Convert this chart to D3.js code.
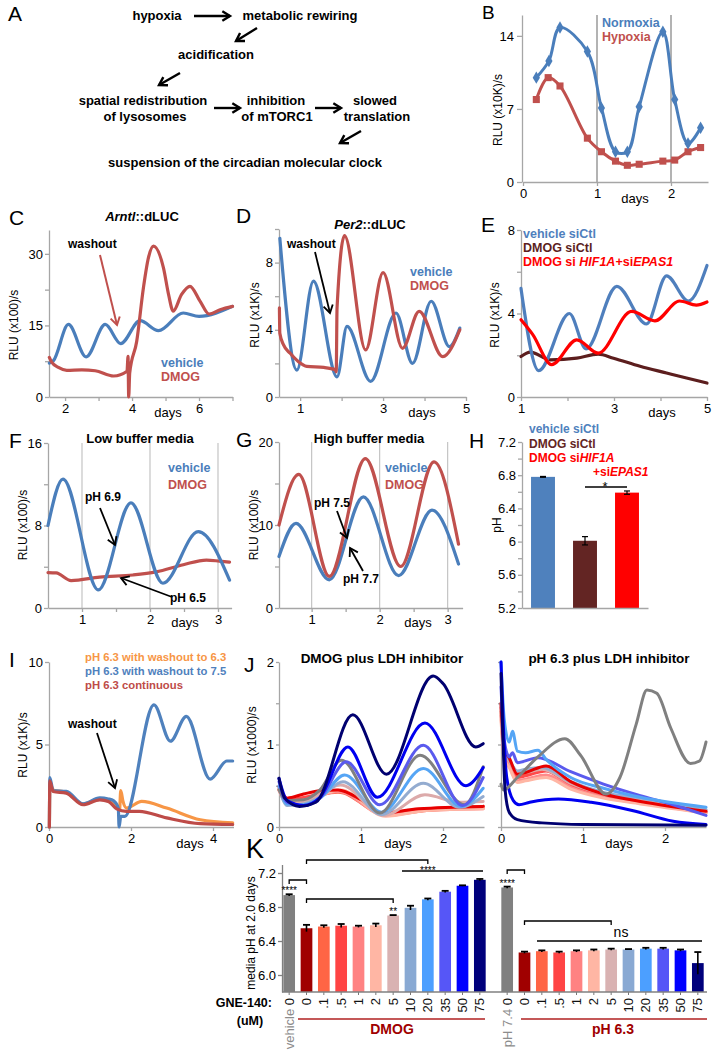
<!DOCTYPE html>
<html><head><meta charset="utf-8">
<script src="https://cdn.jsdelivr.net/npm/d3@7"></script>
<style>body{margin:0;background:#fff}svg{display:block}</style>
</head><body><svg id="c" width="721" height="1050"></svg>
<script>
// ================= DATA =================
// A
const aText = ["hypoxia","metabolic rewiring","acidification","spatial redistribution","of lysosomes","inhibition","of mTORC1","slowed","translation","suspension of the circadian molecular clock"];
// B
const bTicksX=[0,1,2], bTicksY=[0,7,14];
const bNormoxia=[[0.18,10.0],[0.35,11.6],[0.50,14.8],[0.87,12.5],[1.06,7.1],[1.25,2.9],[1.41,2.9],[1.57,7.2],[1.89,14.4],[2.05,7.9],[2.23,3.7],[2.40,5.2]];
const bHypoxia=[[0.18,7.9],[0.34,10.0],[0.50,9.2],[0.87,4.2],[1.06,2.9],[1.25,2.0],[1.41,1.6],[1.57,1.7],[1.89,2.0],[2.05,2.1],[2.23,2.9],[2.40,3.3]];
// C
const cTicksX=[2,4,6], cMinorX=[3,5,7], cTicksY=[0,15,30], cMinorY=[7.5,22.5];
const cVehicle=[[1.53,7.1],[1.65,7.6],[2.1,15.2],[2.63,8.4],[3.2,15.2],[3.66,11.2],[4.24,16.0],[4.79,13.9],[5.53,17.6],[6.0,16.9],[7.0,19.0]];
const cDMOG=[[1.53,8.3],[1.6,7.3],[1.8,6.2],[2.05,5.6],[2.5,5.7],[2.9,5.5],[3.45,4.4],[3.85,5.4],[3.88,8.5],[3.9,0],[3.93,5.0],[4.14,11.7],[4.34,22.9],[4.49,29.2],[4.64,31.6],[4.94,27],[5.09,21.5],[5.23,18.0],[5.48,21.5],[5.73,23.2],[6.03,20.1],[6.3,17.4],[6.63,18.3],[7.0,19.0]];
// D
const dTicksX=[1,3,5], dMinorX=[2,4], dTicksY=[0,4,8], dMinorY=[2,6,10];
const dVehicle=[[0.51,9.45],[0.92,1.6],[1.32,6.9],[1.89,1.2],[2.13,4.2],[2.7,0.93],[3.31,5.0],[3.71,2.0],[4.16,5.7],[4.6,3.0],[4.85,4.1]];
const dDMOG=[[0.5,5.3],[0.51,3.8],[0.6,3.1],[0.76,2.6],[0.96,2.1],[1.16,1.82],[1.57,1.76],[1.85,1.62],[1.87,1.5],[1.89,5.3],[2.07,9.6],[2.58,2.8],[3.0,7.4],[3.47,2.9],[3.87,5.1],[4.44,2.4],[4.85,4.0]];
// E
const eTicksX=[1,3,5], eMinorX=[2,4], eTicksY=[0,4,8], eMinorY=[2,6];
const eVehicleSiCtl=[[1.0,5.2],[1.38,1.26],[2.04,4.0],[2.4,2.3],[3.06,5.3],[3.7,3.5],[4.13,5.8],[4.6,4.6],[5.0,6.3]];
const eDmogSiCtl=[[1.0,1.94],[1.2,2.15],[1.63,1.78],[2.2,1.86],[2.66,2.05],[2.99,1.86],[3.56,1.47],[4.13,1.15],[4.56,0.91],[5.0,0.67]];
const eDmogSiHIF=[[1.0,3.7],[1.25,3.0],[1.66,1.55],[2.2,2.74],[2.66,2.1],[3.38,4.1],[3.88,3.65],[4.41,4.6],[4.77,4.4],[5.0,4.55]];
// F
const fTicksX=[1,2,3], fMinorX=[1.5,2.5], fTicksY=[0,8,16], fMinorY=[4,12];
const fVehicle=[[0.5,8.0],[0.72,12.5],[1.24,1.76],[1.72,10.2],[2.19,2.4],[2.71,7.4],[3.17,2.7]];
const fDMOG=[[0.5,3.43],[0.62,3.4],[0.84,2.66],[1.26,3.0],[1.75,3.2],[2.09,3.5],[2.49,4.2],[2.83,4.65],[3.02,4.55],[3.17,4.45]];
// G
const gTicksX=[1,2,3], gMinorX=[1.5,2.5], gTicksY=[0,10,20], gMinorY=[5,15];
const gVehicle=[[0.52,6.2],[0.77,10.2],[1.26,3.4],[1.76,13.4],[2.28,3.9],[2.77,11.8],[3.16,5.3]];
const gDMOG=[[0.52,10.0],[0.81,16.1],[1.26,3.8],[1.79,18.0],[2.31,5.0],[2.8,17.6],[3.16,7.7]];
// H
const hCats=["vehicle siCtl","DMOG siCtl","DMOG siHIF1A+siEPAS1"];
const hVals=[6.78,6.01,6.59];
const hErr=[0.005,0.05,0.02];
const hTicksY=[5.2,5.6,6,6.4,6.8,7.2], hMinorY=[5.4,5.8,6.2,6.6,7.0];
// I
const iTicksX=[0,2,4], iTicksY=[0,5,10];
const iWash63=[[0.01,0],[0.02,2.6],[0.1,2.25],[0.42,2.1],[0.83,1.4],[1.24,1.7],[1.5,1.5],[1.69,1.1],[1.72,1.0],[1.75,2.2],[1.8,1.6],[1.89,1.15],[2.26,1.55],[2.87,1.15],[3.69,0.44],[4.48,0.25]];
const iWash75=[[0.01,0],[0.02,3.0],[0.1,2.2],[0.42,2.16],[0.83,1.4],[1.24,1.76],[1.45,1.7],[1.57,1.6],[1.69,1.15],[1.71,0],[1.75,0.65],[1.85,0.65],[2.56,7.4],[2.96,5.2],[3.35,6.7],[3.93,2.9],[4.34,4.0],[4.48,4.0]];
const iContinuous=[[0.01,0],[0.02,2.8],[0.1,2.15],[0.42,2.05],[0.83,1.35],[1.24,1.65],[1.45,1.55],[1.65,1.1],[1.89,0.95],[2.2,0.95],[2.87,0.55],[3.69,0.2],[4.48,0.15]];
// J  (series order: vehicle, 0, .1, .5, 1, 2, 5, 10, 20, 35, 50, 75 uM GNE-140)
const jTicksX=[0,1,2], jTicksY=[0,1,2], jMinorY=[0.5,1.5];
const jLeft=[
 [[0,0.45],[0.1,0.32],[0.3,0.33],[0.5,0.45],[0.76,0.81],[1.23,0.17],[1.72,0.87],[2.26,0.27],[2.49,0.73]],
 [[0,0.49],[0.1,0.35],[0.3,0.4],[0.5,0.44],[0.72,0.45],[1.0,0.33],[1.25,0.17],[1.7,0.22],[2.49,0.25]],
 [[0,0.45],[0.1,0.32],[0.4,0.37],[0.72,0.42],[1.3,0.15],[1.8,0.2],[2.49,0.24]],
 [[0,0.46],[0.12,0.33],[0.4,0.38],[0.7,0.44],[1.3,0.16],[1.8,0.22],[2.49,0.25]],
 [[0,0.44],[0.1,0.3],[0.4,0.35],[0.72,0.43],[1.3,0.14],[1.8,0.2],[2.49,0.22]],
 [[0,0.45],[0.1,0.3],[0.35,0.33],[0.75,0.45],[1.3,0.13],[1.8,0.2],[2.49,0.22]],
 [[0,0.46],[0.1,0.28],[0.3,0.3],[0.75,0.51],[1.28,0.14],[1.78,0.39],[2.2,0.3],[2.49,0.31]],
 [[0,0.48],[0.1,0.26],[0.3,0.28],[0.5,0.36],[0.78,0.55],[1.25,0.15],[1.76,0.53],[2.2,0.24],[2.49,0.37]],
 [[0,0.5],[0.1,0.28],[0.3,0.27],[0.5,0.35],[0.8,0.63],[1.25,0.18],[1.76,0.71],[2.22,0.25],[2.49,0.47]],
 [[0,0.55],[0.1,0.3],[0.3,0.26],[0.5,0.35],[0.82,0.79],[1.23,0.27],[1.76,0.99],[2.24,0.26],[2.49,0.6]],
 [[0,0.59],[0.1,0.32],[0.3,0.26],[0.5,0.36],[0.84,0.97],[1.2,0.36],[1.78,1.26],[2.28,0.5],[2.49,0.72]],
 [[0,0.59],[0.07,0.35],[0.25,0.25],[0.45,0.3],[0.9,1.36],[1.31,0.64],[1.88,1.83],[2.0,1.74],[2.4,0.97],[2.49,1.01]]
];
const jRight=[
 [[0,0.52],[0.03,0.45],[0.2,0.6],[0.45,0.85],[0.78,1.07],[0.97,0.87],[1.28,0.4],[1.45,0.6],[1.65,1.25],[1.78,1.66],[1.9,1.62],[2.07,1.2],[2.31,0.77],[2.42,0.8],[2.5,1.03]],
 [[0,1.5],[0.04,0.95],[0.1,0.84],[0.2,0.64],[0.3,0.66],[0.55,0.74],[0.85,0.55],[1.25,0.4],[1.7,0.31],[2.5,0.19]],
 [[0,1.4],[0.04,0.9],[0.1,0.8],[0.2,0.62],[0.3,0.63],[0.55,0.7],[0.85,0.52],[1.25,0.38],[1.7,0.3],[2.5,0.18]],
 [[0,1.45],[0.04,0.9],[0.1,0.78],[0.2,0.6],[0.3,0.62],[0.55,0.68],[0.85,0.5],[1.25,0.37],[1.7,0.3],[2.5,0.18]],
 [[0,1.35],[0.04,0.85],[0.1,0.74],[0.2,0.56],[0.3,0.58],[0.55,0.63],[0.85,0.48],[1.25,0.36],[1.7,0.29],[2.5,0.17]],
 [[0,1.3],[0.04,0.82],[0.1,0.72],[0.2,0.54],[0.3,0.56],[0.55,0.6],[0.85,0.46],[1.25,0.35],[1.7,0.28],[2.5,0.17]],
 [[0,1.4],[0.04,0.9],[0.1,0.8],[0.2,0.65],[0.3,0.66],[0.5,0.7],[0.85,0.53],[1.25,0.4],[1.7,0.32],[2.5,0.2]],
 [[0,1.5],[0.04,0.95],[0.1,0.82],[0.2,0.68],[0.3,0.7],[0.5,0.72],[0.85,0.55],[1.25,0.42],[1.7,0.35],[2.5,0.21]],
 [[0,2.0],[0.04,1.3],[0.1,1.03],[0.14,1.16],[0.2,0.92],[0.3,0.9],[0.45,0.93],[0.55,0.82],[0.85,0.6],[1.25,0.47],[1.7,0.36],[2.5,0.24]],
 [[0,1.7],[0.04,1.05],[0.1,0.85],[0.14,0.9],[0.2,0.78],[0.45,0.84],[0.85,0.67],[1.25,0.52],[1.7,0.38],[2.1,0.27],[2.5,0.14]],
 [[0,2.0],[0.03,1.2],[0.07,0.6],[0.15,0.32],[0.22,0.27],[0.35,0.3],[0.7,0.34],[1.1,0.3],[1.6,0.2],[2.1,0.07],[2.5,0.03]],
 [[0,1.86],[0.02,1.2],[0.05,0.45],[0.1,0.18],[0.2,0.09],[0.5,0.05],[1.0,0.03],[2.5,0.02]]
];
const gneColors=["#808080","#a00000","#ff6545","#ff4444","#ff8282","#ffb6a4","#d9b2b2","#89a9d3","#4c9fff","#5656f7","#0000ff","#00007c"];
const jLineColors=["#808080","#e80000","#ff6545","#ff4a4a","#ff8a8a","#ffb6a4","#dcaaaa","#94acd0","#55a5f5","#5a5aee","#0000f0","#000070"];
// K
const kTicksY=[6.0,6.4,6.8,7.2];
const kDmogCats=["vehicle 0","0",".1",".5","1","2","5","10","20","35","50","75"];
const kDmogVals=[6.94,6.55,6.57,6.58,6.57,6.585,6.70,6.79,6.89,6.98,7.05,7.12];
const kDmogErr=[0.01,0.04,0.015,0.02,0.01,0.02,0.005,0.025,0.01,0.01,0.005,0.01];
const kPhCats=["pH 7.4 0","0",".1",".5","1","2","5","10","20","35","50","75"];
const kPhVals=[7.03,6.265,6.28,6.265,6.28,6.29,6.30,6.30,6.31,6.31,6.29,6.14];
const kPhErr=[0.01,0.01,0.01,0.01,0.01,0.01,0.01,0.005,0.01,0.01,0.01,0.13];

// ================= DRAWING =================
const FONT="'Liberation Sans', Arial, Helvetica, sans-serif";
const BLUE="#4a7ebb", RED="#c0504d", ORANGE="#f79646", AX="#a6a6a6";
const svg=d3.select('#c');
svg.append('rect').attr('width',721).attr('height',1050).attr('fill','#fff');

function txt(x,y,s,o={}){
  const t=svg.append('text').attr('x',x).attr('y',y).attr('font-family',FONT)
   .attr('font-size',o.size||13).attr('font-weight',o.weight||'normal')
   .attr('fill',o.fill||'#000').attr('text-anchor',o.anchor||'start').text(s);
  if(o.style) t.attr('font-style',o.style);
  return t;
}
function rich(x,y,parts,o={}){
  const t=svg.append('text').attr('x',x).attr('y',y).attr('font-family',FONT)
   .attr('font-size',o.size||12).attr('font-weight',o.weight||'bold').attr('fill',o.fill||'#000')
   .attr('text-anchor',o.anchor||'start');
  parts.forEach(p=>{const s=t.append('tspan').text(p[0]); if(p[1]) s.attr('font-style','italic'); if(p[2]) s.attr('fill',p[2]);});
  return t;
}
function vtxt(cx,cy,s,o={}){
  return svg.append('text').attr('transform',`translate(${cx},${cy}) rotate(-90)`)
   .attr('text-anchor','middle').attr('dy','0.35em').attr('font-family',FONT)
   .attr('font-size',o.size||12).attr('fill',o.fill||'#000').attr('font-weight',o.weight||'normal').text(s);
}
function styleAx(g,o){
  g.attr('font-family',FONT).attr('font-size',o.fs||13);
  g.select('.domain').attr('stroke',o.col||AX).attr('stroke-width',o.sw||1.3);
  g.selectAll('.tick line').attr('stroke',o.col||AX).attr('stroke-width',o.sw||1.3);
  g.selectAll('.tick text').attr('fill','#000');
}
function axB(x,yPos,ticks,o={}){
  const g=svg.append('g').attr('transform',`translate(0,${yPos})`)
   .call(d3.axisBottom(x).tickValues(ticks).tickSizeInner(o.ts||4).tickSizeOuter(0).tickPadding(o.pad||3).tickFormat(o.fmt||(d=>d)));
  styleAx(g,o);
  if(o.minor){
    const m=svg.append('g').attr('transform',`translate(0,${yPos})`)
     .call(d3.axisBottom(x).tickValues(o.minor).tickSizeInner(o.ts||4).tickSizeOuter(0).tickFormat(''));
    m.select('.domain').remove(); styleAx(m,o);
  }
  return g;
}
function axL(y,xPos,ticks,o={}){
  const g=svg.append('g').attr('transform',`translate(${xPos},0)`)
   .call(d3.axisLeft(y).tickValues(ticks).tickSizeInner(o.ts||4).tickSizeOuter(0).tickPadding(o.pad||2).tickFormat(o.fmt||(d=>d)));
  styleAx(g,o);
  if(o.minor){
    const m=svg.append('g').attr('transform',`translate(${xPos},0)`)
     .call(d3.axisLeft(y).tickValues(o.minor).tickSizeInner(o.ts||4).tickSizeOuter(0).tickFormat(''));
    m.select('.domain').remove(); styleAx(m,o);
  }
  return g;
}
function drawLine(x,y,data,color,w,curve){
  svg.append('path').datum(data).attr('fill','none').attr('stroke',color).attr('stroke-width',w||3)
   .attr('stroke-linejoin','round').attr('stroke-linecap','round')
   .attr('d',d3.line().x(d=>x(d[0])).y(d=>y(d[1])).curve(curve||d3.curveMonotoneX));
}
function arrow(x1,y1,x2,y2,col,w,h){
  svg.append('line').attr('x1',x1).attr('y1',y1).attr('x2',x2).attr('y2',y2).attr('stroke',col).attr('stroke-width',w);
  const a=Math.atan2(y2-y1,x2-x1), sp=0.55;
  const p1=[x2+h*Math.cos(a+Math.PI-sp),y2+h*Math.sin(a+Math.PI-sp)];
  const p2=[x2+h*Math.cos(a+Math.PI+sp),y2+h*Math.sin(a+Math.PI+sp)];
  svg.append('path').attr('d',`M${p1[0]},${p1[1]}L${x2},${y2}L${p2[0]},${p2[1]}`).attr('fill','none').attr('stroke',col).attr('stroke-width',w).attr('stroke-linejoin','miter');
}

// panel letters
[["A",8,21,21],["B",482,19,19],["C",9,225,21],["D",236,223,21],["E",481,232,21],["F",9,448,21],["G",236,447,21],["H",469,448,21],["I",9,667,21],["J",244,672,21],["K",246,858,27]]
 .forEach(l=>txt(l[1],l[2],l[0],{size:l[3]}));

// ---------- A ----------
const aPos=[[157,20],[300,20],[216,59],[143,105],[145,121],[276,105],[277,121],[375,105],[377,121],[245,167]];
aText.forEach((s,i)=>txt(aPos[i][0],aPos[i][1],s,{size:13,weight:'bold',anchor:'middle'}));
[[194,16,230,16],[257,28,236,41],[180,73,159,85],[214,108,240,108],[315,108,341,108],[361,131,340,143]]
 .forEach(a=>arrow(a[0],a[1],a[2],a[3],'#000',2.4,9));

// ---------- B ----------
{
 const x=d3.scaleLinear().domain([0,2.5]).range([523,708]);
 const y=d3.scaleLinear().domain([0,16]).range([182,15]);
 [1,2].forEach(v=>svg.append('line').attr('x1',x(v)).attr('x2',x(v)).attr('y1',y(16)).attr('y2',y(0)).attr('stroke','#808080').attr('stroke-width',1.2));
 axL(y,522,bTicksY,{ts:5,pad:3});
 axB(x,182,bTicksX,{ts:4});
 drawLine(x,y,bHypoxia,RED,3,d3.curveCatmullRom);
 drawLine(x,y,bNormoxia,BLUE,3,d3.curveCatmullRom);
 svg.selectAll(null).data(bHypoxia).enter().append('path').attr('transform',d=>`translate(${x(d[0])},${y(d[1])})`)
  .attr('d',d3.symbol(d3.symbolSquare,50)).attr('fill',RED);
 svg.selectAll(null).data(bNormoxia).enter().append('path').attr('transform',d=>`translate(${x(d[0])},${y(d[1])})`)
  .attr('d',d3.symbol(d3.symbolDiamond,45)).attr('fill',BLUE);
 txt(602,27,"Normoxia",{size:12.5,weight:'bold',fill:BLUE});
 txt(602,41,"Hypoxia",{size:12.5,weight:'bold',fill:RED});
 vtxt(498,110,"RLU (x10K)/s");
 txt(635,203,"days",{anchor:'middle'});
}

// ---------- C ----------
{
 const x=d3.scaleLinear().domain([1.52,7.0]).range([49,232.5]);
 const y=d3.scaleLinear().domain([0,35]).range([397,230]);
 axL(y,49,cTicksY,{minor:cMinorY});
 axB(x,397,cTicksX,{minor:cMinorX});
 drawLine(x,y,cVehicle,BLUE,3.2);
 drawLine(x,y,cDMOG,RED,3.2);
 rich(142,221,[["Arntl",true],["::dLUC"]],{size:13,anchor:'middle'});
 txt(68,248,"washout",{size:12,weight:'bold'});
 arrow(100,255,117,325,RED,2,9);
 txt(161,367,"vehicle",{size:12.5,weight:'bold',fill:BLUE});
 txt(161,381,"DMOG",{size:12.5,weight:'bold',fill:RED});
 vtxt(14,325,"RLU (x100)/s");
 txt(168,417,"days",{anchor:'middle'});
}

// ---------- D ----------
{
 const x=d3.scaleLinear().domain([0.49,5]).range([279,466]);
 const y=d3.scaleLinear().domain([0,10]).range([397,229]);
 axL(y,279,dTicksY,{minor:dMinorY});
 axB(x,397,dTicksX,{minor:dMinorX});
 drawLine(x,y,dVehicle,BLUE,3.2);
 drawLine(x,y,dDMOG,RED,3.2);
 rich(370,229,[["Per2",true],["::dLUC"]],{size:13,anchor:'middle'});
 txt(287,248,"washout",{size:12,weight:'bold'});
 arrow(315,252,330,313,'#000',1.8,9);
 txt(410,276,"vehicle",{size:12.5,weight:'bold',fill:BLUE});
 txt(410,290,"DMOG",{size:12.5,weight:'bold',fill:RED});
 vtxt(255,315,"RLU (x1K)/s");
 txt(422,417,"days",{anchor:'middle'});
}

// ---------- E ----------
{
 const x=d3.scaleLinear().domain([1,5]).range([521,707]);
 const y=d3.scaleLinear().domain([0,8]).range([397,230]);
 axL(y,521,eTicksY,{minor:eMinorY});
 axB(x,397,eTicksX,{minor:eMinorX});
 drawLine(x,y,eDmogSiCtl,"#5c1e1e",3.2);
 drawLine(x,y,eVehicleSiCtl,"#4f7fbd",3.2);
 drawLine(x,y,eDmogSiHIF,"#ff0000",3.2);
 txt(523,238,"vehicle siCtl",{size:12.5,weight:'bold',fill:"#4f7fbd"});
 txt(523,252,"DMOG siCtl",{size:12.5,weight:'bold',fill:"#5c1e1e"});
 rich(523,266,[["DMOG si "],["HIF1A",true],["+si"],["EPAS1",true]],{size:12.5,fill:"#ff0000"});
 vtxt(495,315,"RLU (x1K)/s");
 txt(662,417,"days",{anchor:'middle'});
}

// ---------- F ----------
{
 const x=d3.scaleLinear().domain([0.5,3.2]).range([48,231.6]);
 const y=d3.scaleLinear().domain([0,16]).range([608,443]);
 fTicksX.forEach(v=>svg.append('line').attr('x1',x(v)).attr('x2',x(v)).attr('y1',y(16)).attr('y2',y(0)).attr('stroke','#c4c4c4').attr('stroke-width',1.2));
 axL(y,48,fTicksY,{minor:fMinorY});
 axB(x,608,fTicksX,{minor:fMinorX});
 drawLine(x,y,fDMOG,RED,3.2);
 drawLine(x,y,fVehicle,BLUE,3.2);
 txt(140,443,"Low buffer media",{size:13,weight:'bold',anchor:'middle'});
 txt(168,472,"vehicle",{size:12.5,weight:'bold',fill:BLUE});
 txt(168,489,"DMOG",{size:12.5,weight:'bold',fill:RED});
 txt(85,501,"pH 6.9",{size:12,weight:'bold'});
 arrow(100,508,115,545,'#000',1.8,9);
 txt(170,602,"pH 6.5",{size:12,weight:'bold'});
 arrow(172,597,121,578,'#000',1.8,9);
 vtxt(23,525,"RLU (x100)/s");
 txt(185,627,"days",{anchor:'middle'});
}

// ---------- G ----------
{
 const x=d3.scaleLinear().domain([0.52,3.22]).range([279,462.6]);
 const y=d3.scaleLinear().domain([0,20]).range([608,442]);
 gTicksX.forEach(v=>svg.append('line').attr('x1',x(v)).attr('x2',x(v)).attr('y1',y(20)).attr('y2',y(0)).attr('stroke','#c4c4c4').attr('stroke-width',1.2));
 axL(y,279,gTicksY,{minor:gMinorY});
 axB(x,608,gTicksX,{minor:gMinorX});
 drawLine(x,y,gVehicle,BLUE,3.2);
 drawLine(x,y,gDMOG,RED,3.2);
 txt(369,443,"High buffer media",{size:13,weight:'bold',anchor:'middle'});
 txt(385,472,"vehicle",{size:12.5,weight:'bold',fill:BLUE});
 txt(385,489,"DMOG",{size:12.5,weight:'bold',fill:RED});
 txt(314,507,"pH 7.5",{size:12,weight:'bold'});
 arrow(337,511,347,538,'#000',1.8,9);
 txt(343,583,"pH 7.7",{size:12,weight:'bold'});
 arrow(363,571,350,548,'#000',1.8,9);
 vtxt(254,525,"RLU (x100)/s");
 txt(418,627,"days",{anchor:'middle'});
}

// ---------- H ----------
{
 const y=d3.scaleLinear().domain([5.2,7.2]).range([608,442]);
 const x=d3.scaleBand().domain(hCats).range([522,648]).paddingInner(0.43).paddingOuter(0.215);
 const cols=["#4f81bd","#632523","#ff0000"];
 svg.selectAll(null).data(hCats).enter().append('rect')
  .attr('x',d=>x(d)).attr('width',x.bandwidth()).attr('y',(d,i)=>y(hVals[i])).attr('height',(d,i)=>y(5.2)-y(hVals[i]))
  .attr('fill',(d,i)=>cols[i]);
 hCats.forEach((c,i)=>{
   const cx=x(c)+x.bandwidth()/2;
   svg.append('line').attr('x1',cx).attr('x2',cx).attr('y1',y(hVals[i]-hErr[i])).attr('y2',y(hVals[i]+hErr[i])).attr('stroke','#000').attr('stroke-width',1.2);
   [hVals[i]-hErr[i],hVals[i]+hErr[i]].forEach(v=>svg.append('line').attr('x1',cx-3).attr('x2',cx+3).attr('y1',y(v)).attr('y2',y(v)).attr('stroke','#000').attr('stroke-width',1.2));
 });
 axL(y,522,hTicksY,{minor:hMinorY,fmt:d3.format('')});
 axB(d3.scaleLinear().range([522,648]),608,[]);
 svg.append('line').attr('x1',585).attr('x2',627).attr('y1',487).attr('y2',487).attr('stroke','#000').attr('stroke-width',1.5);
 txt(605,491,"*",{size:13,anchor:'middle'});
 txt(529,433,"vehicle siCtl",{size:12,weight:'bold',fill:"#4f81bd"});
 txt(529,448,"DMOG siCtl",{size:12,weight:'bold',fill:"#632523"});
 rich(529,462,[["DMOG si"],["HIF1A",true]],{size:12,fill:"#ff0000"});
 rich(593,476,[["+si"],["EPAS1",true]],{size:12,fill:"#ff0000"});
 vtxt(497,525,"pH");
}

// ---------- I ----------
{
 const x=d3.scaleLinear().domain([0,4.5]).range([49,233.5]);
 const y=d3.scaleLinear().domain([0,10]).range([827,662]);
 axL(y,49,iTicksY,{});
 axB(x,827,iTicksX,{});
 drawLine(x,y,iWash63,ORANGE,3.2);
 drawLine(x,y,iWash75,"#4f81bd",3.2);
 drawLine(x,y,iContinuous,"#be4b48",3.2);
 txt(85,661,"pH 6.3 with washout to 6.3",{size:11.3,weight:'bold',fill:ORANGE});
 txt(85,675,"pH 6.3 with washout to 7.5",{size:11.3,weight:'bold',fill:"#4f81bd"});
 txt(85,689,"pH 6.3 continuous",{size:11.3,weight:'bold',fill:"#be4b48"});
 txt(68,728,"washout",{size:12,weight:'bold'});
 arrow(97,733,115,788,'#000',1.8,9);
 vtxt(23,745,"RLU (x1K)/s");
 txt(190,848,"days",{anchor:'middle'});
}

// ---------- J ----------
{
 const y=d3.scaleLinear().domain([0,2]).range([827,662]);
 const xl=d3.scaleLinear().domain([0,2.5]).range([279,484]);
 const xr=d3.scaleLinear().domain([0,2.5]).range([501,706]);
 axL(y,279,jTicksY,{minor:jMinorY,ts:3});
 axB(xl,827,jTicksX,{});
 axL(y,501,jTicksY,{minor:jMinorY,ts:3,fmt:()=>''});
 axB(xr,827,jTicksX,{});
 const order=[2,3,4,5,1,6,7,8,0,9,10,11];
 order.forEach(i=>drawLine(xl,y,jLeft[i],jLineColors[i],3,d3.curveMonotoneX));
 const orderR=[2,3,4,5,6,7,1,9,8,10,0,11];
 orderR.forEach(i=>drawLine(xr,y,jRight[i],jLineColors[i],3,d3.curveMonotoneX));
 txt(382,663,"DMOG plus LDH inhibitor",{size:13.5,weight:'bold',anchor:'middle'});
 txt(609,663,"pH 6.3 plus LDH inhibitor",{size:13.5,weight:'bold',anchor:'middle'});
 vtxt(252,745,"RLU (x1000)/s");
 txt(398,848,"days",{anchor:'middle'});
 txt(619,848,"days",{anchor:'middle'});
}

// ---------- K ----------
{
 const y=d3.scaleLinear().domain([5.8,7.3]).range([992,864.5]);
 const x1=d3.scaleBand().domain(d3.range(12)).range([280.5,488.5]).paddingInner(0.325).paddingOuter(0.1625);
 const x2=d3.scaleBand().domain(d3.range(12)).range([498.5,706.5]).paddingInner(0.325).paddingOuter(0.1625);
 function group(x,cats,vals,errs,grayLabel){
   cats.forEach((c,i)=>{
     svg.append('rect').attr('x',x(i)).attr('width',x.bandwidth()).attr('y',y(vals[i])).attr('height',y(5.8)-y(vals[i])).attr('fill',gneColors[i]);
     const cx=x(i)+x.bandwidth()/2;
     svg.append('line').attr('x1',cx).attr('x2',cx).attr('y1',y(vals[i]-errs[i])).attr('y2',y(vals[i]+errs[i])).attr('stroke','#000').attr('stroke-width',1.6);
     svg.append('line').attr('x1',cx-3.5).attr('x2',cx+3.5).attr('y1',y(vals[i]+errs[i])).attr('y2',y(vals[i]+errs[i])).attr('stroke','#000').attr('stroke-width',1.8);
     svg.append('line').attr('x1',cx).attr('x2',cx).attr('y1',992).attr('y2',995).attr('stroke','#777').attr('stroke-width',1);
     const t=svg.append('text').attr('transform',`translate(${cx+4.5},998) rotate(-90)`).attr('text-anchor','end')
       .attr('font-family',FONT).attr('font-size',13).attr('fill','#111');
     if(i===0){ t.append('tspan').attr('fill','#8c8c8c').text(grayLabel+' '); t.append('tspan').text('0'); }
     else t.text(c);
   });
 }
 group(x1,kDmogCats,kDmogVals,kDmogErr,"vehicle");
 group(x2,kPhCats,kPhVals,kPhErr,"pH 7.4");
 axL(y,282,kTicksY,{fmt:d3.format('.1f'),col:'#808080',ts:4,pad:2});
 svg.append('line').attr('x1',282).attr('x2',707).attr('y1',992).attr('y2',992).attr('stroke','#808080').attr('stroke-width',1.3);
 vtxt(251,933,"media pH at 2.0 days");
 const bracket=(xa,xb,yy,tick)=>{
   svg.append('path').attr('d',`M${xa},${yy+tick}V${yy}H${xb}V${yy+tick}`).attr('fill','none').attr('stroke','#000').attr('stroke-width',1.3);
 };
 const c1=i=>x1(i)+x1.bandwidth()/2, c2=i=>x2(i)+x2.bandwidth()/2;
 bracket(c1(0),c1(1),880,4);
 txt(c1(0),894,"****",{size:10,anchor:'middle'});
 bracket(c1(1),c1(8),860,4);
 svg.append('line').attr('x1',402).attr('x2',483).attr('y1',871).attr('y2',871).attr('stroke','#000').attr('stroke-width',1.3);
 txt(c1(8),874,"****",{size:10,anchor:'middle'});
 bracket(c1(1),c1(6),899,4);
 txt(c1(6),915,"**",{size:10,anchor:'middle'});
 bracket(c2(0),c2(1),870,4);
 txt(c2(0),887,"****",{size:10,anchor:'middle'});
 bracket(c2(1),c2(6),921,4);
 svg.append('line').attr('x1',537).attr('x2',702).attr('y1',941).attr('y2',941).attr('stroke','#000').attr('stroke-width',1.3);
 txt(621,937,"ns",{size:14,anchor:'middle'});
 // group labels
 svg.append('line').attr('x1',298).attr('x2',485).attr('y1',1019).attr('y2',1019).attr('stroke','#b02020').attr('stroke-width',1.5);
 svg.append('line').attr('x1',521).attr('x2',707).attr('y1',1019).attr('y2',1019).attr('stroke','#b02020').attr('stroke-width',1.5);
 txt(392,1034,"DMOG",{size:14,weight:'bold',fill:'#a00000',anchor:'middle'});
 txt(613,1034,"pH 6.3",{size:14,weight:'bold',fill:'#a00000',anchor:'middle'});
 txt(272,1007,"GNE-140:",{size:12.5,weight:'bold',anchor:'end'});
 txt(250,1025,"(uM)",{size:12.5,weight:'bold',anchor:'middle'});
}
</script></body></html>
